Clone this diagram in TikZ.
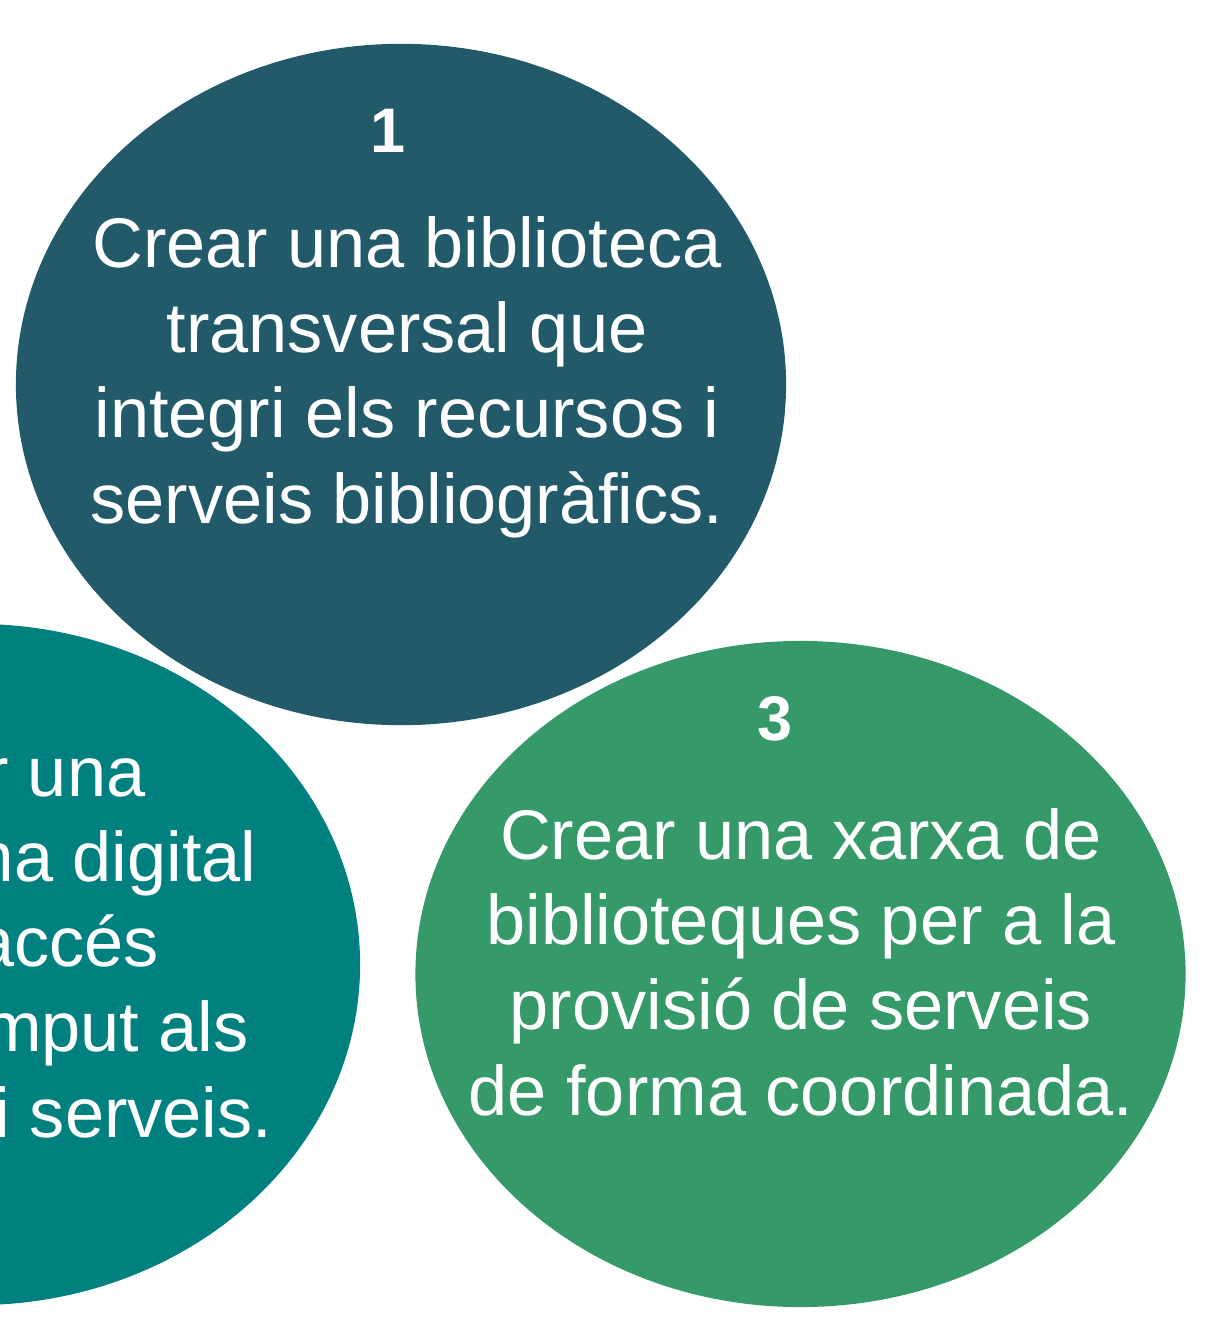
\documentclass[tikz,border=0pt]{standalone}
\usepackage{fontspec}
\setmainfont{Liberation Sans}
\usetikzlibrary{positioning}
\usetikzlibrary{shapes.geometric}

\definecolor{petrol}{HTML}{225A6A}
\definecolor{tealgoal}{HTML}{00807F}
\definecolor{jade}{HTML}{35996A}

\tikzset{
  bubble/.style={ellipse,draw=none,inner sep=0pt,minimum width=19.25cm,minimum height=17.03cm},
  goal/.style={text=white,align=center,font=\fontsize{50}{60.5}\selectfont,anchor=base},
  goalnum/.style={text=white,font=\fontsize{44.8}{50}\selectfont\bfseries,anchor=base}
}

\begin{document}
\begin{tikzpicture}[x=0.025cm,y=-0.025cm]
\useasboundingbox (0,0) rectangle (1211,1317);
\clip (0,0) rectangle (1211,1317);

% bubbles
\node[bubble,fill=petrol] (obj1) at (401,384.5) {};
\node[bubble,fill=tealgoal] (obj2) at (-25,964.5) {};
\node[bubble,fill=jade,minimum height=16.65cm] (obj3) at (800.5,974) {};

% goal 1 (base = last line)
\node[goalnum] (num1) at (388,152) {1};
\node[goal] (txt1) at (407,523) {Crear una biblioteca\\transversal que\\integri els recursos i\\serveis bibliogràfics.};

% goal 2
\node[goal] (txt2) at (-11,1137) {Crear una\\plataforma digital\\amb accés\\ininterromput als\\recursos i serveis.};

% goal 3
\node[goalnum] (num3) at (775,740) {3};
\node[goal] (txt3) at (801,1115) {Crear una xarxa de\\biblioteques per a la\\provisió de serveis\\de forma coordinada.};

\end{tikzpicture}
\end{document}
